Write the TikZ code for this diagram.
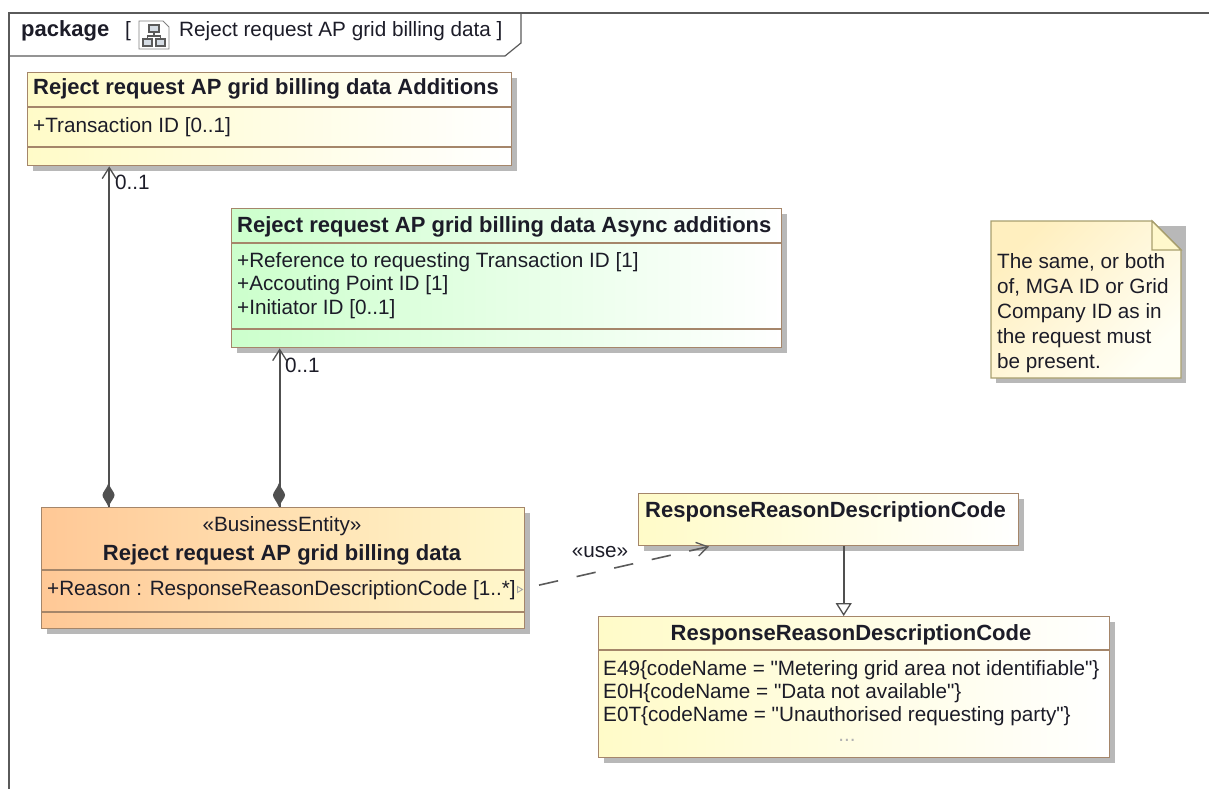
\documentclass[tikz,border=0pt]{standalone}
\usepackage{fontspec}
\setmainfont{Liberation Sans}
\newfontfamily\plainf{Liberation Sans}
\usetikzlibrary{shadows,arrows.meta,calc}
\definecolor{boxline}{HTML}{A5866A}
\definecolor{frameline}{HTML}{5A5A5A}
\definecolor{linkc}{HTML}{505050}
\definecolor{noteline}{HTML}{A89F6E}
\definecolor{shadowc}{HTML}{B8B8B8}
\definecolor{ink}{HTML}{1C1C28}
\definecolor{yel}{HTML}{FFFBC8}
\definecolor{ora}{HTML}{FFC896}
\definecolor{oraend}{HTML}{FFF8CC}
\definecolor{gre}{HTML}{CCFFCC}
\definecolor{notea}{HTML}{FFEFBF}
\definecolor{noteb}{HTML}{FFFFF5}
\definecolor{iconf}{HTML}{D5DCE4}
\tikzset{
  x=1pt,y=-1pt,
  umlbox/.style={draw=boxline,line width=1.4pt,inner sep=0pt,anchor=north west,
    drop shadow={shadow xshift=5pt,shadow yshift=-5pt,fill=shadowc,opacity=1}},
  yellowbox/.style={umlbox,left color=yel,right color=white},
  orangebox/.style={umlbox,left color=ora,right color=oraend},
  greenbox/.style={umlbox,left color=gre,right color=white},
  title/.style={inner sep=0pt,font=\plainf\fontsize{22}{26}\selectfont\bfseries,text=ink},
  attr/.style={inner sep=0pt,anchor=base west,font=\plainf\fontsize{20.7}{24}\selectfont,text=ink},
  link/.style={draw=linkc,line width=1.8pt},
  sep/.style={draw=boxline,line width=1.2pt},
  open/.style={-{Straight Barb[length=11pt,width=14pt,line width=1.3pt]}},
  gen/.style={-{Triangle[open,length=13pt,width=16pt,fill=white,line width=1.3pt]}},
}
\begin{document}
\begin{tikzpicture}
\useasboundingbox (0,0) rectangle (1209,789);
% frame
\draw[frameline,line width=1.2pt] (9,789) -- (9,13) -- (1209,13);
\draw[frameline,line width=1.2pt] (9,56) -- (505,56) -- (521,43) -- (521,13);
\node[title,anchor=base west] (kw) at (21,37) {package};
\node[attr] (brk) at (125,37) {[};
\node[attr] (ftitle) at (179,37) {Reject request AP grid billing data ]};
% icon
\draw[gray,line width=.9pt] (139,21) -- (163,21) -- (169,27) -- (169,49) -- (139,49) -- cycle;
\draw[frameline,fill=iconf,line width=1.2pt] (149,25) rectangle (159,32) (143,39) rectangle (152,46) (156,39) rectangle (165,46);
\draw[frameline,line width=1.2pt] (154,32) -- (154,36) (147.5,39) -- (147.5,36) -- (160.5,36) -- (160.5,39);
% Additions
\node[yellowbox,minimum width=484pt,minimum height=93pt] (add) at (27,72) {};
\draw[sep] (add.west |- 0,107) -- (add.east |- 0,107);
\draw[sep] (add.west |- 0,147) -- (add.east |- 0,147);
\node[title,anchor=base west] (addt) at (33,95) {Reject request AP grid billing data Additions};
\node[attr] (adda) at (33,132) {+Transaction ID [0..1]};
% Async
\node[greenbox,minimum width=550pt,minimum height=139pt] (asy) at (231,208) {};
\draw[sep] (asy.west |- 0,243) -- (asy.east |- 0,243);
\draw[sep] (asy.west |- 0,329) -- (asy.east |- 0,329);
\node[title,anchor=base west] (asyt) at (237,232) {Reject request AP grid billing data Async additions};
\node[attr] (asy1) at (237,267) {+Reference to requesting Transaction ID [1]};
\node[attr] (asy2) at (237,290) {+Accouting Point ID [1]};
\node[attr] (asy3) at (237,314) {+Initiator ID [0..1]};
% Business
\node[orangebox,minimum width=483pt,minimum height=121pt] (biz) at (41,507) {};
\draw[sep] (biz.west |- 0,570) -- (biz.east |- 0,570);
\draw[sep] (biz.west |- 0,612) -- (biz.east |- 0,612);
\node[attr,anchor=base] (bizs) at (282,531) {«BusinessEntity»};
\node[title,anchor=base] (bizt) at (282,560) {Reject request AP grid billing data};
\node[attr] (biza) at (47,595) {+Reason : ResponseReasonDescriptionCode [1..*]};
% top code
\node[yellowbox,minimum width=380pt,minimum height=52pt] (code) at (638,493) {};
\node[title,anchor=base west] (codet) at (645,517) {ResponseReasonDescriptionCode};
% enum
\node[yellowbox,minimum width=511pt,minimum height=141pt] (enum) at (598,616) {};
\draw[sep] (enum.west |- 0,650) -- (enum.east |- 0,650);
\node[title,anchor=base] (enumt) at (851,640) {ResponseReasonDescriptionCode};
\node[attr] (e1) at (603,675) {E49\{codeName = "Metering grid area not identifiable"\}};
\node[attr] (e2) at (603,698) {E0H\{codeName = "Data not available"\}};
\node[attr] (e3) at (603,721) {E0T\{codeName = "Unauthorised requesting party"\}};
\node[attr,anchor=base,text=gray!60] (e4) at (847,741) {...};
% note
\fill[shadowc] (996,226) rectangle (1186,383);
\shade[top color=notea,bottom color=noteb,shading angle=45,draw=noteline,line width=1.4pt]
  (991,221) -- (1152,221) -- (1181,250) -- (1181,378) -- (991,378) -- cycle;
\fill[oraend,draw=noteline,line width=1.2pt] (1152,221) -- (1152,250) -- (1181,250) -- cycle;
\node[attr,anchor=north west,align=left,font=\plainf\fontsize{20.7}{25}\selectfont] (note) at (997,253)
  {The same, or both\\of, MGA ID or Grid\\Company ID as in\\the request must\\be present.};
% connectors
\draw[link,open] ([xshift=108.5-282.5pt]biz.north) -- ([xshift=108.5-269pt]add.south);
\draw[link,open] ([xshift=279-282.5pt]biz.north) -- ([xshift=279-506pt]asy.south);
\fill[linkc] (108.5,507) .. controls (105.5,500) and (102.5,498) .. (102.5,495) .. controls (102.5,492) and (106.5,489) .. (108.5,483)
  .. controls (110.5,489) and (114.5,492) .. (114.5,495) .. controls (114.5,498) and (111.5,500) .. (108.5,507) -- cycle;
\fill[linkc] (279,507) .. controls (276,500) and (273,498) .. (273,495) .. controls (273,492) and (277,489) .. (279,483)
  .. controls (281,489) and (285,492) .. (285,495) .. controls (285,498) and (282,500) .. (279,507) -- cycle;
\draw[link,gen] (code.south) ++(15,0) coordinate (c1) -- (c1 |- enum.north);
\coordinate (usefrom) at (522,589);
\coordinate (useto) at (709,546.5);
\draw[gray!70,line width=.9pt] (517.5,586.5) -- (522.5,589.5) -- (517.5,592.5) -- cycle;
\draw[frameline,line width=1.6pt,dash pattern=on 19.5pt off 19pt,dash phase=21pt,open] (usefrom) -- (useto);
\node[attr] (m1) at (115,189) {0..1};
\node[attr] (m2) at (285,372) {0..1};
\node[attr,anchor=base] (use) at (600,557) {«use»};
\end{tikzpicture}
\end{document}
